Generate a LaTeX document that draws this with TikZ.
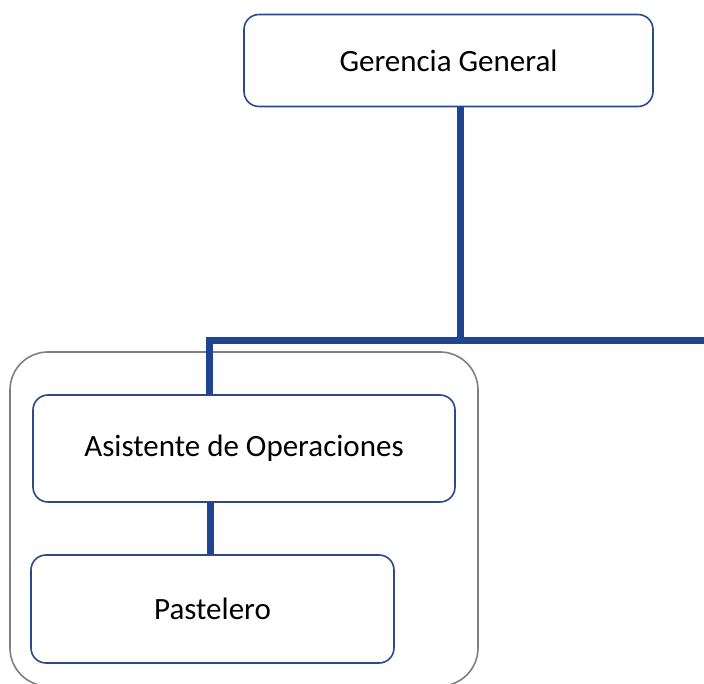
\documentclass[tikz,border=0pt]{standalone}
\usepackage{fontspec}
\setmainfont{Carlito}
\definecolor{lineblue}{HTML}{1F4493}
\definecolor{boxblue}{HTML}{2A4A8C}
\definecolor{outergray}{HTML}{7F7F7F}
\begin{document}
\begin{tikzpicture}[x=1pt,y=-1pt,
  orgbox/.style={draw=boxblue,line width=1.6pt,rounded corners=15pt,fill=white,font=\fontsize{31}{36}\selectfont},
  conn/.style={draw=lineblue,line width=7pt}]
\useasboundingbox (0,0) rectangle (704,684);
\draw[outergray,line width=1.6pt,rounded corners=38pt] (10,352) rectangle (478,686);
\node[orgbox,minimum width=409pt,minimum height=92pt] (gg) at (448.5,60.5) {Gerencia General};
\node[orgbox,minimum width=422pt,minimum height=107pt] (ao) at (244,448.5) {Asistente de Operaciones};
\node[orgbox,minimum width=363pt,minimum height=108pt] (pa) at (212.5,609) {Pastelero};
\coordinate (hr) at (704,341);
\coordinate (hl) at (209,341);
\draw[conn] (gg.south -| 460,0) -- (460,341);
\draw[conn] (hl) -- (hr);
\draw[conn] (209,337.5) -- (ao.north -| 209,0);
\draw[conn] (ao.south -| 210,0) -- (pa.north -| 210,0);
\end{tikzpicture}
\end{document}
